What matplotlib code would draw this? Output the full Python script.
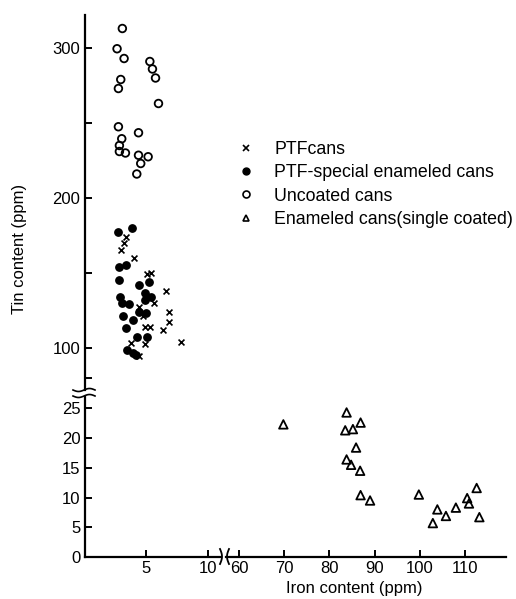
import matplotlib
matplotlib.use('Agg')
import matplotlib.pyplot as plt
from matplotlib.lines import Line2D
import numpy as np

plt.rcParams['font.family'] = ['Liberation Sans', 'DejaVu Sans']

# --- data (iron ppm, tin ppm) ---
ptf_x = [3.34, 3.24, 2.94, 4.02, 5.05, 5.38, 6.60, 5.67, 4.40, 6.89, 4.77, 6.89,
         4.91, 5.32, 6.40, 7.83, 3.77, 4.91, 4.45]
ptf_y = [174, 170, 165, 160, 149, 150, 138, 130, 127.5, 124, 121.5, 117,
         114, 114, 112, 104, 103, 102.5, 95]

special_x = [3.83, 2.75, 3.40, 2.78, 2.80, 4.38, 5.27, 4.92, 5.38, 2.89, 3.05, 3.64,
             4.94, 4.46, 5.00, 3.10, 3.97, 3.40, 5.05, 4.27, 3.43, 3.97, 4.19]
special_y = [180, 177.5, 155, 154, 145, 142, 144, 136.5, 134, 134, 130, 129,
             132, 124, 123, 121, 118.5, 113, 107.5, 107, 98.5, 96.5, 95.5]

uncoated_x = [3.07, 2.64, 3.21, 5.30, 5.51, 5.76, 2.94, 2.75, 6.00, 2.75, 4.38, 3.02,
              2.83, 2.83, 3.32, 4.38, 5.16, 4.56, 4.24]
uncoated_y = [313, 299.5, 293, 291, 286, 280, 279, 273, 263, 247.5, 243.5, 239.5,
              235, 231, 230, 228.5, 227.5, 223, 216]

enamel_x = [69.8, 83.8, 86.9, 83.5, 85.2, 85.9, 83.8, 84.8, 86.8, 86.9, 89.0, 99.8,
            112.6, 110.5, 110.9, 108.0, 103.9, 105.8, 113.2, 102.9]
enamel_y = [22.3, 24.3, 22.6, 21.3, 21.5, 18.4, 16.4, 15.5, 14.5, 10.4, 9.5, 10.5,
            11.6, 9.9, 9.0, 8.3, 8.0, 6.9, 6.7, 5.7]

labels = ['PTFcans', 'PTF-special enameled cans', 'Uncoated cans',
          'Enameled cans(single coated)']

W, H = 516, 599
fig = plt.figure(figsize=(W / 100, H / 100), dpi=100)

def box(x0, y0, x1, y1):
    # pixel box -> figure fraction
    return [x0 / W, 1 - y1 / H, (x1 - x0) / W, (y1 - y0) / H]

ax_up = fig.add_axes(box(84.5, 15, 221, 390))
ax_lo = fig.add_axes(box(84.5, 397, 221, 557))
ax_r = fig.add_axes(box(226, 397, 506, 557))

for a in (ax_up, ax_lo, ax_r):
    a.patch.set_alpha(0)
    for s in a.spines.values():
        s.set_linewidth(1.6)
    a.tick_params(direction='in', width=1.4, length=5, labelsize=12, pad=3)
ax_up.spines[['top', 'right', 'bottom']].set_visible(False)
ax_lo.spines[['top', 'right']].set_visible(False)
ax_r.spines[['top', 'right', 'left']].set_visible(False)

# upper part (tin 72-322)
ax_up.set_xlim(0, 11.07)
ax_up.set_ylim(72, 322)
ax_up.set_xticks([])
ax_up.set_yticks([80, 100, 150, 200, 250, 300])
ax_up.set_yticklabels(['', '100', '', '200', '', '300'])

ax_up.scatter(uncoated_x, uncoated_y, s=30, facecolors='none', edgecolors='black', linewidths=1.3)
ax_up.scatter(special_x, special_y, s=28, color='black')
ax_up.scatter(ptf_x, ptf_y, s=18, marker='x', color='black', linewidths=1.2)

# lower left (tin 0-27)
ax_lo.set_xlim(0, 11.07)
ax_lo.set_ylim(0, 26.9)
ax_lo.set_xticks([5, 10])
ax_lo.set_yticks([0, 5, 10, 15, 20, 25])

# lower right (iron 57-119)
ax_r.set_xlim(57.1, 119.1)
ax_r.set_ylim(0, 26.9)
ax_r.set_yticks([])
ax_r.set_xticks([60, 70, 80, 90, 100, 110])
ax_r.scatter(enamel_x, enamel_y, s=38, marker='^', facecolors='none', edgecolors='black', linewidths=1.3)

# break marks
t = np.linspace(0, 1, 30)
for py in (390, 396):
    xs = 73 + 22 * t
    ys = py + 1.5 * np.sin(t * 2 * np.pi)
    fig.add_artist(Line2D(xs / W, 1 - ys / H, color='black', lw=1.2))
for px, sgn in ((220, 1), (229, -1)):
    ys = 549 + 15 * t
    xs = px + sgn * 2 * np.sin(t * np.pi)
    fig.add_artist(Line2D(xs / W, 1 - ys / H, color='black', lw=1.3))

# legend
handles = [
    Line2D([], [], ls='none', marker='x', ms=4, mec='black', mew=1.2),
    Line2D([], [], ls='none', marker='o', ms=5, color='black'),
    Line2D([], [], ls='none', marker='o', ms=5, mfc='none', mec='black', mew=1.2),
    Line2D([], [], ls='none', marker='^', ms=5, mfc='none', mec='black', mew=1.2),
]
fig.legend(handles, labels, loc='upper left', bbox_to_anchor=(228 / W, 1 - 132 / H),
           frameon=False, fontsize=12.8, handlelength=1.0, handletextpad=1.1,
           labelspacing=0.36, borderpad=0)

fig.text(20 / W, 1 - 249 / H, 'Tin content (ppm)', rotation=90, ha='center', va='center', fontsize=12)
fig.text(354 / W, 1 - 589 / H, 'Iron content (ppm)', ha='center', va='center', fontsize=12)

plt.savefig('out.png', dpi=100)
